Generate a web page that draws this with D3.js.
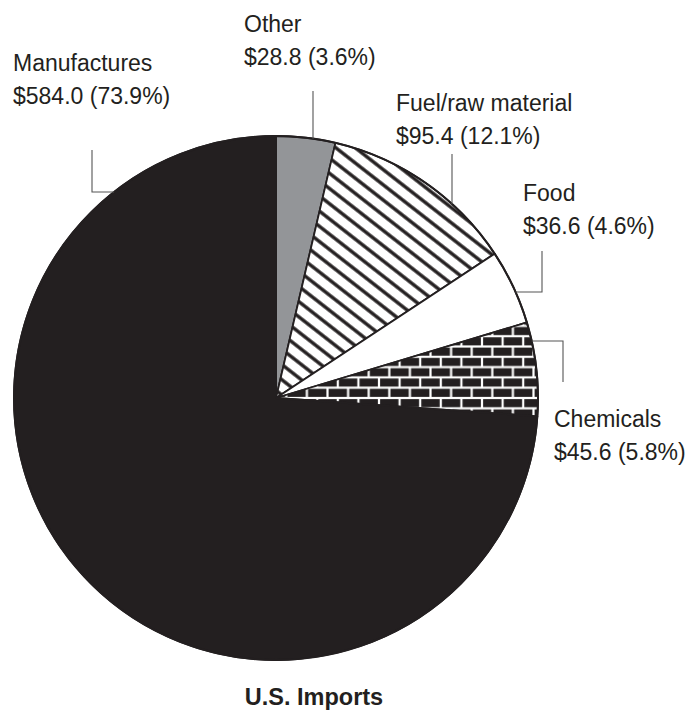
<!DOCTYPE html>
<html>
<head>
<meta charset="utf-8">
<script src="https://cdn.jsdelivr.net/npm/d3@7"></script>
<style>
	html, body { margin: 0; padding: 0; background: #fff; }
	svg { display: block; font-family: "Liberation Sans", Arial, sans-serif; }
</style>
</head>
<body>
<div id="chart"></div>
<script>
// U.S. Imports, billions of dollars (clockwise from 12 o'clock)
const categories = ["Other", "Fuel/raw material", "Food", "Chemicals", "Manufactures"];
const values = [28.8, 95.4, 36.6, 45.6, 584.0];
const title = "U.S. Imports";

const width = 691, height = 713;
const cx = 276, cy = 398, radius = 262;
const ink = "#231f20";

// label placement: text origin + elbow leader (start point, optional corner)
const labelLayout = {
	"Other": { x: 244, y: 32, leader: { type: "v", x: 313, y0: 91 } },
	"Fuel/raw material": { x: 396, y: 111, leader: { type: "v", x: 452, y0: 154 } },
	"Food": { x: 523, y: 201, leader: { type: "h", x0: 542, y0: 251, y: 292 } },
	"Chemicals": { x: 554, y: 427, leader: { type: "h", x0: 563, y0: 382, y: 341 } },
	"Manufactures": { x: 13, y: 71, leader: { type: "h", x0: 92, y0: 150, y: 192 } },
};

const fills = {
	"Other": "#939598",
	"Fuel/raw material": "url(#hatch)",
	"Food": "#ffffff",
	"Chemicals": "url(#brick)",
	"Manufactures": ink,
};

const data = categories.map((c, i) => ({ name: c, value: values[i] }));
const total = d3.sum(values);

const svg = d3.select("#chart")
	.append("svg")
	.attr("width", width)
	.attr("height", height);

const defs = svg.append("defs");

// diagonal hatch for fuel
const hs = 12;
const hatch = defs.append("pattern")
	.attr("id", "hatch")
	.attr("patternUnits", "userSpaceOnUse")
	.attr("width", hs)
	.attr("height", hs)
	.attr("patternTransform", "rotate(38)");
hatch.append("rect").attr("width", hs).attr("height", hs).attr("fill", "#fff");
hatch.append("line")
	.attr("x1", 0).attr("x2", hs)
	.attr("y1", hs / 2).attr("y2", hs / 2)
	.attr("stroke", ink)
	.attr("stroke-width", 3.4);

// brick pattern for chemicals
const bw = 20.6, bh = 10.3, mortar = 2.2;
const brick = defs.append("pattern")
	.attr("id", "brick")
	.attr("patternUnits", "userSpaceOnUse")
	.attr("width", bw)
	.attr("height", bh * 2);
brick.append("rect").attr("width", bw).attr("height", bh * 2).attr("fill", "#fff");
[[0, 0], [bw / 2, bh], [-bw / 2, bh]].forEach(([x, y]) => {
	brick.append("rect")
		.attr("x", x + mortar / 2)
		.attr("y", y + mortar / 2)
		.attr("width", bw - mortar)
		.attr("height", bh - mortar)
		.attr("fill", ink);
});

const pie = d3.pie().sort(null).value(d => d.value);
const arc = d3.arc().innerRadius(0).outerRadius(radius);

const g = svg.append("g").attr("transform", `translate(${cx},${cy})`);

g.selectAll("path")
	.data(pie(data))
	.enter()
	.append("path")
	.attr("d", arc)
	.attr("fill", d => fills[d.data.name])
	.attr("stroke", ink)
	.attr("stroke-width", 1.8)
	.attr("stroke-linejoin", "round");

g.append("circle")
	.attr("r", radius)
	.attr("fill", "none")
	.attr("stroke", ink)
	.attr("stroke-width", 2);

// leaders end where they meet the pie edge
function edgeY(x) {
	return cy - Math.sqrt(radius * radius - (x - cx) * (x - cx));
}
function edgeX(y, side) {
	return cx + side * Math.sqrt(radius * radius - (y - cy) * (y - cy));
}

const pct = d3.format(".1f");
const labels = svg.append("g");

data.forEach(d => {
	const L = labelLayout[d.name];
	let pts;
	if (L.leader.type === "v") {
		pts = [[L.leader.x, L.leader.y0], [L.leader.x, edgeY(L.leader.x)]];
	} else {
		const side = L.leader.x0 < cx ? -1 : 1;
		pts = [[L.leader.x0, L.leader.y0], [L.leader.x0, L.leader.y], [edgeX(L.leader.y, side), L.leader.y]];
	}
	labels.append("path")
		.attr("d", d3.line()(pts))
		.attr("fill", "none")
		.attr("stroke", "#555")
		.attr("stroke-width", 1.1);

	const t = labels.append("text")
		.attr("x", L.x)
		.attr("y", L.y)
		.attr("fill", ink)
		.style("font-size", "23px");
	t.append("tspan").attr("x", L.x).text(d.name);
	t.append("tspan")
		.attr("x", L.x)
		.attr("dy", 32.5)
		.text(`$${pct(d.value)} (${pct(d.value / total * 100)}%)`);
});

svg.append("text")
	.attr("x", 314)
	.attr("y", 705)
	.attr("text-anchor", "middle")
	.attr("fill", ink)
	.style("font-size", "23.5px")
	.style("font-weight", "bold")
	.text(title);
</script>
</body>
</html>
